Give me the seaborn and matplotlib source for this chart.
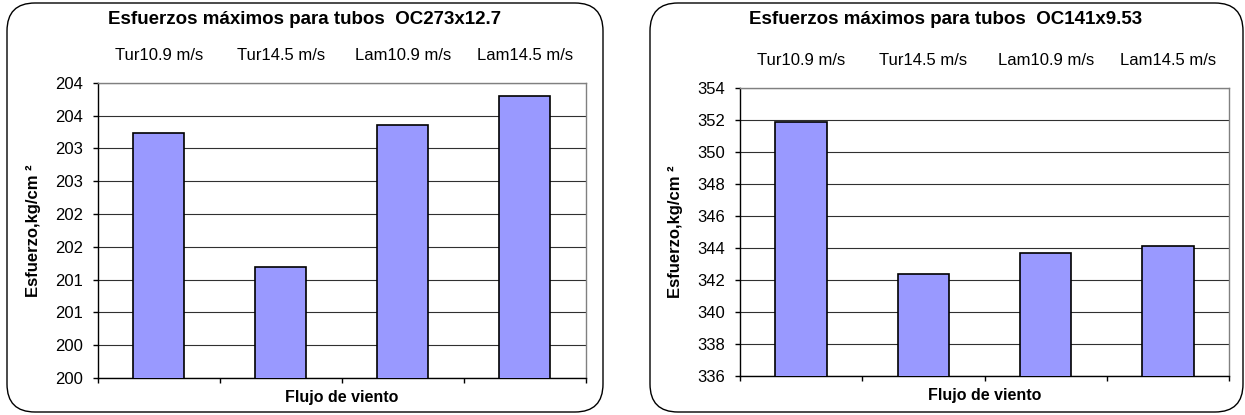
import pandas as pd
import matplotlib
matplotlib.use("Agg")
import matplotlib.pyplot as plt
from matplotlib.patches import FancyBboxPatch
import seaborn as sns

categories = ["Tur10.9 m/s", "Tur14.5 m/s", "Lam10.9 m/s", "Lam14.5 m/s"]

# OC273x12.7
esf_273 = [203.73, 201.69, 203.86, 204.30]
ticks_273 = [200.0, 200.5, 201.0, 201.5, 202.0, 202.5, 203.0, 203.5, 204.0, 204.5]
labels_273 = ["200", "200", "201", "201", "202", "202", "203", "203", "204", "204"]

# OC141x9.53
esf_141 = [351.85, 342.40, 343.70, 344.10]
ticks_141 = [336, 338, 340, 342, 344, 346, 348, 350, 352, 354]
labels_141 = [str(t) for t in ticks_141]

titles = ["Esfuerzos máximos para tubos  OC273x12.7",
          "Esfuerzos máximos para tubos  OC141x9.53"]

sns.set_style("white")
plt.rcParams["font.family"] = ["Liberation Sans", "DejaVu Sans"]
plt.rcParams["text.color"] = "black"
plt.rcParams["axes.labelcolor"] = "black"
plt.rcParams["xtick.color"] = "black"
plt.rcParams["ytick.color"] = "black"

fig = plt.figure(figsize=(12.45, 4.15), dpi=100)

# axes rectangles (figure fractions) and panel frames (inches)
ax_rects = [[0.0785, 0.0892, 0.392, 0.711], [0.5944, 0.094, 0.3928, 0.694]]
frames = [(0.07, 0.03, 5.96, 4.09), (6.50, 0.03, 5.93, 4.09)]
title_x = [305 / 1245, 946 / 1245]

datasets = [(esf_273, ticks_273, labels_273), (esf_141, ticks_141, labels_141)]

for i, (vals, ticks, labels) in enumerate(datasets):
    x0, y0, w, h = frames[i]
    box = FancyBboxPatch((x0, y0), w, h, boxstyle="round,pad=0,rounding_size=0.28",
                         transform=fig.dpi_scale_trans, facecolor="white",
                         edgecolor="black", linewidth=1.0, zorder=-5)
    fig.patches.append(box)

    ax = fig.add_axes(ax_rects[i])
    ax.set_facecolor("none")
    df = pd.DataFrame({"flujo": categories, "esfuerzo": vals})
    sns.barplot(data=df, x="flujo", y="esfuerzo", color="#9999ff", saturation=1,
                edgecolor="black", linewidth=1.2, width=0.42, ax=ax, zorder=3)

    ax.set_ylim(ticks[0], ticks[-1])
    ax.set_xlim(-0.5, 3.5)
    ax.set_yticks(ticks)
    ax.set_yticklabels(labels)
    ax.yaxis.grid(True, color="#303030", linewidth=0.8, zorder=0)
    ax.set_axisbelow(True)

    # category labels above the plot area
    ax.tick_params(axis="x", which="major", bottom=False, top=False,
                   labelbottom=False, labeltop=True, labelsize=12, pad=11)
    ax.set_xticks([-0.5, 0.5, 1.5, 2.5, 3.5], minor=True)
    ax.tick_params(axis="x", which="minor", bottom=True, length=3.6, width=1, color="black")
    ax.tick_params(axis="y", left=True, length=3.6, width=1, color="black",
                   labelsize=12, pad=7)

    for side in ["left", "bottom"]:
        ax.spines[side].set_color("black")
        ax.spines[side].set_linewidth(1.0)
    for side in ["top", "right"]:
        ax.spines[side].set_color("#808080")
        ax.spines[side].set_linewidth(1.0)

    ax.set_xlabel("Flujo de viento", fontsize=11.5, fontweight="bold")
    ax.xaxis.set_label_coords(0.5, -0.042)
    ax.set_ylabel("Esfuerzo,kg/cm ²", fontsize=12, fontweight="bold")
    ax.yaxis.set_label_coords(-0.117, 0.5)

    fig.text(title_x[i], 1 - 19 / 415, titles[i], ha="center", va="center",
             fontsize=13.5, fontweight="bold")

fig.savefig("out.png", dpi=100)
